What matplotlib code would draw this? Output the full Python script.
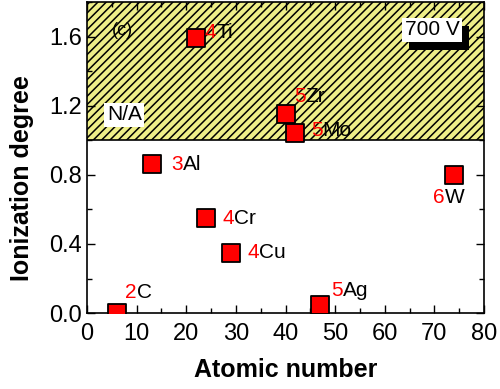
import matplotlib
matplotlib.use("Agg")
from matplotlib import pyplot as plt
from matplotlib.ticker import MultipleLocator
import matplotlib.patheffects as pe

plt.rcParams['font.family'] = ['Liberation Sans', 'DejaVu Sans']
plt.rcParams['hatch.linewidth'] = 1.1

# data
elements = ['C', 'Al', 'Ti', 'Cr', 'Cu', 'Zr', 'Mo', 'Ag', 'W']
atomic_number = [6, 13, 22, 24, 29, 40, 42, 47, 74]
ionization = [0.0, 0.86, 1.59, 0.55, 0.35, 1.15, 1.04, 0.05, 0.80]
charge = ['2', '3', '4', '4', '4', '5', '5', '5', '6']
# label offsets in points (red digit position relative to marker)
offsets = [(6, 15), (14, 0), (6, 4), (12, 0), (12, 0), (6, 13), (11, 2), (8, 10), (-15, -16)]

fig = plt.figure(figsize=(5, 3.89), dpi=100)
ax = fig.add_axes([0.174, 0.195, 0.794, 0.80])

# shaded N/A region
ax.axhspan(1.0, 1.8, facecolor='#eeee88', edgecolor='black', hatch='////',
           linewidth=0, zorder=1)
ax.axhline(1.0, color='black', linewidth=1.2, zorder=2)

ax.scatter(atomic_number, ionization, s=175, marker='s', facecolor='red',
           edgecolor='black', linewidth=1.3, zorder=5, clip_on=True)

for x, y, q, el, off in zip(atomic_number, ionization, charge, elements, offsets):
    t = ax.annotate(q, xy=(x, y), xytext=off, textcoords='offset points',
                    color='red', fontsize=15, ha='left', va='center', zorder=6)
    ax.annotate(el, xy=(1, 0), xycoords=t, color='black', fontsize=15,
                ha='left', va='bottom', zorder=6)

ax.text(0.063, 0.907, '(c)', transform=ax.transAxes, fontsize=13, va='center')
ax.text(0.05, 0.637, 'N/A', transform=ax.transAxes, fontsize=15, va='center',
        bbox=dict(facecolor='white', edgecolor='none', pad=2), zorder=6)
ax.text(0.87, 0.91, '700 V', transform=ax.transAxes, fontsize=15, va='center',
        ha='center', zorder=6,
        bbox=dict(facecolor='white', edgecolor='none', pad=2,
                  path_effects=[pe.SimplePatchShadow(offset=(5, -6), shadow_rgbFace='black', alpha=1),
                                pe.Normal()]))

ax.set_xlim(0, 80)
ax.set_ylim(0, 1.8)
ax.xaxis.set_major_locator(MultipleLocator(10))
ax.xaxis.set_minor_locator(MultipleLocator(5))
ax.yaxis.set_major_locator(MultipleLocator(0.4))
ax.yaxis.set_minor_locator(MultipleLocator(0.2))
ax.tick_params(which='both', direction='in', top=True, right=True, labelsize=17)
ax.tick_params(which='major', length=6, width=1)
ax.tick_params(which='minor', length=3.5, width=1)
ax.tick_params(axis='x', pad=7)
ax.yaxis.set_major_formatter(plt.FormatStrFormatter('%.1f'))
for s in ax.spines.values():
    s.set_linewidth(1.2)

ax.set_xlabel('Atomic number', fontsize=18, fontweight='bold')
ax.set_ylabel('Ionization degree', fontsize=18, fontweight='bold')
ax.xaxis.set_label_coords(0.5, -0.145)
ax.yaxis.set_label_coords(-0.134, 0.434)

fig.savefig('out.png', dpi=100)
